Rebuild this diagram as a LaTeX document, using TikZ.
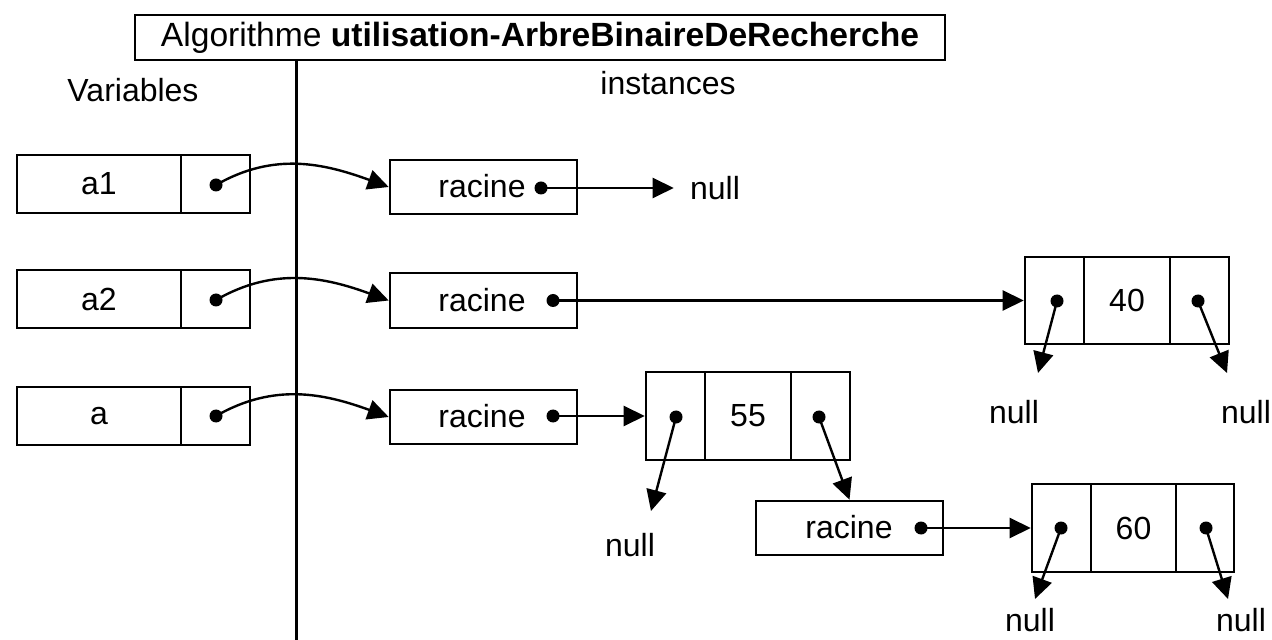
\documentclass[tikz,border=0pt]{standalone}
\usepackage{fontspec}
\setmainfont{Liberation Sans}
\usetikzlibrary{arrows.meta}
\begin{document}
\begin{tikzpicture}[x=0.5pt,y=-0.5pt,
  font=\fontsize{16}{19}\selectfont,
  cell/.style={draw, line width=1.3pt, inner sep=0pt, minimum height=#1},
  cell/.default=29pt,
  dot/.style={circle, fill=black, inner sep=0pt, minimum size=6.5pt},
  txt/.style={inner sep=0pt},
  ptr/.style={-{Triangle[length=10.5pt,width=10pt]}, line width=1.2pt},
  plain/.style={line width=1.3pt}]
\path[use as bounding box] (0,0) rectangle (1272,640);

% title
\node[draw, line width=1.3pt, minimum width=405pt, minimum height=22.5pt, inner sep=0pt,
      font=\fontsize{16.8}{19}\selectfont] (title) at (540,37.5)
  {Algorithme \textbf{utilisation-ArbreBinaireDeRecherche}};
\coordinate (vbot) at (296.5,640);
\draw[plain] (vbot |- title.south) -- (vbot);

\node[txt] (vars) at (133,90) {Variables};
\node[txt] (inst) at (668,83) {instances};

% variables
\node[cell, minimum width=82pt] (a1n) at (99,184) {a1};
\node[cell, minimum width=34.5pt] (a1p) at (215.5,184) {};
\node[cell, minimum width=82pt] (a2n) at (99,299) {a2};
\node[cell, minimum width=34.5pt] (a2p) at (215.5,299) {};
\node[cell, minimum width=82pt] (a3n) at (99,416) {a};
\node[cell, minimum width=34.5pt] (a3p) at (215.5,416) {};
\node[dot] (d1) at (216,185) {};
\node[dot] (d2) at (216,300) {};
\node[dot] (d3) at (216,416) {};

% racine boxes
\node[cell=27pt, minimum width=93.5pt] (r1) at (483.5,187) {};
\node[txt] (r1t) at (482,186) {racine};
\node[dot] (r1d) at (541,188) {};
\node[cell=27.5pt, minimum width=93.5pt] (r2) at (483.5,300.5) {};
\node[txt] (r2t) at (482,300) {racine};
\node[dot] (r2d) at (553,300.5) {};
\node[cell=27pt, minimum width=93.5pt] (r3) at (483.5,417) {};
\node[txt] (r3t) at (482,416) {racine};
\node[dot] (r3d) at (553,416) {};
\node[cell=27pt, minimum width=93.5pt] (r4) at (849.5,528) {};
\node[txt] (r4t) at (849,527) {racine};
\node[dot] (r4d) at (921,528) {};

% tree node 40
\node[cell=43.5pt, minimum width=29.5pt] (n40l) at (1054.5,300.5) {};
\node[cell=43.5pt, minimum width=43pt] (n40m) at (1127,300.5) {40};
\node[cell=43.5pt, minimum width=29.5pt] (n40r) at (1199.5,300.5) {};
\node[dot] (d40l) at (1057,301) {};
\node[dot] (d40r) at (1198,301) {};

% tree node 55
\node[cell=44pt, minimum width=29.5pt] (n55l) at (675.5,416) {};
\node[cell=44pt, minimum width=43pt] (n55m) at (748,416) {55};
\node[cell=44pt, minimum width=29.5pt] (n55r) at (820.5,416) {};
\node[dot] (d55l) at (676,417) {};
\node[dot] (d55r) at (819,417) {};

% tree node 60
\node[cell=44pt, minimum width=29.5pt] (n60l) at (1061.5,528) {};
\node[cell=44pt, minimum width=42.5pt] (n60m) at (1133.5,528) {60};
\node[cell=44pt, minimum width=29pt] (n60r) at (1205,528) {};
\node[dot] (d60l) at (1061,528) {};
\node[dot] (d60r) at (1206,528) {};

% null labels
\node[txt] (null1) at (715,188) {null};
\node[txt] (null40l) at (1014,412) {null};
\node[txt] (null40r) at (1246,412) {null};
\node[txt] (null55l) at (630,545) {null};
\node[txt] (null60l) at (1030,620) {null};
\node[txt] (null60r) at (1241,620) {null};

% arrow tips ends
\coordinate (t40l) at (1038,373);
\coordinate (t40r) at (1227,373);
\coordinate (t55l) at (651,511);
\coordinate (t60l) at (1035,599);
\coordinate (t60r) at (1228,599);

% connectors
\draw[ptr] (d1.center) to[out=30,in=160] (r1.west);
\draw[ptr] (d2.center) to[out=30,in=160] (r2.west);
\draw[ptr] (d3.center) to[out=30,in=160] (r3.west);
\draw[ptr, shorten >=8pt] (r1d.center) -- (null1.west);
\draw[ptr] (r2d.center) -- (n40l.west);
\draw[ptr] (r3d.center) -- (n55l.west);
\draw[ptr] (r4d.center) -- (n60l.west);
\draw[ptr] (d40l.center) -- (t40l);
\draw[ptr] (d40r.center) -- (t40r);
\draw[ptr] (d55l.center) -- (t55l);
\draw[ptr] (d55r.center) -- (r4.north);
\draw[ptr] (d60l.center) -- (t60l);
\draw[ptr] (d60r.center) -- (t60r);
\end{tikzpicture}
\end{document}
